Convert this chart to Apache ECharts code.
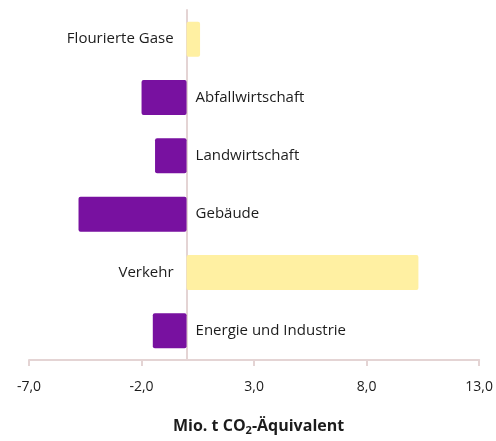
<!DOCTYPE html>
<html>
<head>
<meta charset="utf-8">
<script src="https://cdn.jsdelivr.net/npm/echarts@6/dist/echarts.min.js"></script>
<style>
  html, body { margin: 0; padding: 0; background: #fff; }
  #chart { width: 496px; height: 441px; }
</style>
</head>
<body>
<div id="chart"></div>
<script>
// Sectors, top to bottom
const sectors = ['Flourierte Gase', 'Abfallwirtschaft', 'Landwirtschaft', 'Gebäude', 'Verkehr', 'Energie und Industrie'];
// Change in Mio. t CO2-equivalent per sector
const changes = [0.6, -2.0, -1.4, -4.8, 10.3, -1.5];
// X axis ticks
const xTicks = [-7, -2, 3, 8, 13];

const PURPLE = '#7811a0';
const YELLOW = '#fff0a2';
const AXIS = '#e4d4d4';
const TEXT = '#1c1c1c';
const FONT = '"Open Sans", "Noto Sans", sans-serif';

const barData = changes.map((v, i) => ({
  value: v,
  name: sectors[i],
  itemStyle: { color: v >= 0 ? YELLOW : PURPLE },
  label: {
    position: v >= 0 ? 'left' : 'right',
    distance: v >= 0 ? 13 : 9
  }
}));

const chart = echarts.init(document.getElementById('chart'), null, { renderer: 'canvas' });
chart.setOption({
  animation: false,
  backgroundColor: '#ffffff',
  grid: { left: 29, right: 16, top: 10, bottom: 78, containLabel: false },
  xAxis: {
    type: 'value',
    min: xTicks[0],
    max: xTicks[xTicks.length - 1],
    interval: 5,
    splitLine: { show: false },
    axisLine: { show: true, onZero: false, lineStyle: { color: AXIS, width: 2 } },
    axisTick: { show: true, length: 6, lineStyle: { color: AXIS, width: 2 } },
    axisLabel: {
      margin: 20,
      color: TEXT,
      fontFamily: FONT,
      fontSize: 14,
      formatter: v => v.toFixed(1).replace('.', ',')
    },
    name: '{b|Mio. t CO}{s|2}{b|-Äquivalent}',
    nameLocation: 'middle',
    nameGap: 57,
    nameTextStyle: {
      padding: [0, 0, 0, 9],
      rich: {
        b: { fontFamily: FONT, fontSize: 16, fontWeight: 'bold', color: TEXT },
        s: { fontFamily: FONT, fontSize: 11, fontWeight: 'bold', color: TEXT, padding: [8, 0, 0, 0] }
      }
    }
  },
  yAxis: {
    type: 'category',
    data: sectors,
    inverse: true,
    axisLine: { show: true, onZero: true, lineStyle: { color: AXIS, width: 2 } },
    axisTick: { show: false },
    axisLabel: { show: false },
    splitLine: { show: false }
  },
  series: [{
    type: 'bar',
    data: barData,
    barCategoryGap: '40%',
    itemStyle: { borderRadius: 2 },
    label: {
      show: true,
      formatter: p => p.name,
      color: TEXT,
      fontFamily: FONT,
      fontSize: 15
    }
  }]
});
</script>
</body>
</html>
